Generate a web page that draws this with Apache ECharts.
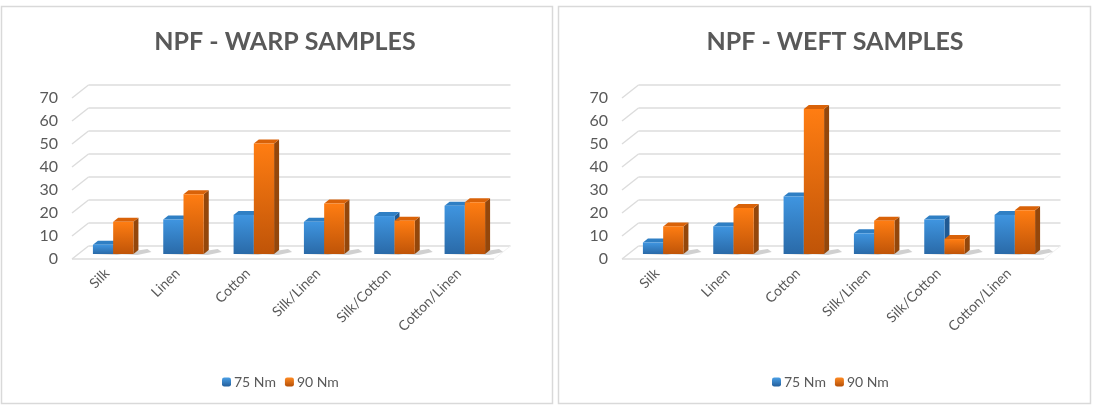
<!DOCTYPE html>
<html><head><meta charset="utf-8">
<style>html,body{margin:0;padding:0;background:#fff}#c{width:1093px;height:405px}</style>
<script src="https://cdn.jsdelivr.net/npm/echarts@6/dist/echarts.min.js"></script></head>
<body><div id="c"></div>
<script>
const categories = ['Silk','Linen','Cotton','Silk/Linen','Silk/Cotton','Cotton/Linen'];
const seriesNames = ['75 Nm','90 Nm'];
const warp75 = [4,15,17,14,16.5,21];
const warp90 = [14,26,48,22,14.5,22.5];
const weft75 = [5,12,25,9,15,17];
const weft90 = [12,20,63,14.5,6.5,19];
const gridTicks = [0,10,20,30,40,50,60,70];
const FONT = 'Lato';

const chart = echarts.init(document.getElementById('c'));
const vert = (a,b)=>({type:'linear',x:0,y:0,x2:0,y2:1,colorStops:[{offset:0,color:a},{offset:1,color:b}]});
const palette = [
  {front:vert('#3f95e0','#2a6aa8'),side:'#1f5a94',top:'#2f7fc4',legend:vert('#4a9fe6','#245f9c')},
  {front:vert('#ff7d12','#bf5408'),side:'#94470b',top:'#d96208',legend:vert('#ff8a22','#b45008')}
];
// depth of the floor, and of a bar standing in the middle of it
const DX=16.5, DY=13, BX=6, BY=5, SX=5, SY=4;

function wall(params,api){
  const v=api.value(0), p=api.coord([0,v]), s=api.size([1,0]);
  const x0=params.coordSys.x, x1=x0+params.coordSys.width, y=p[1];
  const style={stroke:'#dcdcdc',lineWidth:1.4,fill:null};
  const kids=[
    {type:'line',shape:{x1:x0,y1:y,x2:x0+DX,y2:y-DY},style},
    {type:'line',shape:{x1:x0+DX,y1:y-DY,x2:x1+DX,y2:y-DY},style}
  ];
  if(v===0) kids.push({type:'line',shape:{x1:x0,y1:y,x2:x1,y2:y},style},
                      {type:'line',shape:{x1:x1,y1:y,x2:x1+DX,y2:y-DY},style:{stroke:'#f2f2f2',lineWidth:1}});
  return {type:'group',silent:true,children:kids};
}

function bar3d(idx){
  return function(params,api){
    const c=api.coord([api.value(0),api.value(1)]), z=api.coord([api.value(0),0]);
    const band=api.size([1,0])[0], w=band*0.288;
    const x=c[0]+BX+(idx===0?-w:0), top=c[1]-BY, bot=z[1]-BY, col=palette[idx];
    const kids=[
      {type:'polygon',shape:{points:[[x+2,bot],[x+w+SX+9,bot-5],[x+w+SX+13,bot-2],[x+w+4,bot+1]]},
       style:{fill:'rgba(120,120,120,0.35)'}},
      {type:'polygon',shape:{points:[[x+w,top],[x+w+SX,top-SY],[x+w+SX,bot-SY],[x+w,bot]]},style:{fill:col.side}},
      {type:'polygon',shape:{points:[[x,top],[x+SX,top-SY],[x+w+SX,top-SY],[x+w,top]]},style:{fill:col.top}},
      {type:'rect',shape:{x,y:top,width:w,height:bot-top},style:{fill:col.front}}
    ];
    return {type:'group',children:kids};
  };
}

const panels=[
  {left:72, title:'NPF - WARP SAMPLES', titleX:280, legendX:283, a:warp75, b:warp90},
  {left:622, title:'NPF - WEFT SAMPLES', titleX:830, legendX:833, a:weft75, b:weft90}
];
const W=422, H=161;
const option={
  animation:false, backgroundColor:'#fff',
  textStyle:{fontFamily:FONT},
  graphic:[
    {type:'rect',silent:true,shape:{x:1.5,y:6.5,width:551,height:397},style:{fill:'#fff',stroke:'#d9d9d9',lineWidth:1.5}},
    {type:'rect',silent:true,shape:{x:558.5,y:6.5,width:532,height:397},style:{fill:'#fff',stroke:'#d9d9d9',lineWidth:1.5}}
  ],
  title:panels.map(p=>({text:p.title,left:p.titleX,top:24,textAlign:'center',
    textStyle:{fontFamily:FONT,fontSize:25,fontWeight:'bold',color:'#595959'}})),
  legend:panels.map((p,i)=>({
    left:p.legendX-66, top:370, itemWidth:9, itemHeight:9, itemGap:9,
    data:[{name:seriesNames[0]},{name:seriesNames[1]}],
    selectedMode:false,
    textStyle:{fontFamily:FONT,fontSize:14,color:'#595959',padding:[0,0,0,-2]}
  })),
  grid:panels.map(p=>({left:p.left,top:98,width:W,height:H,containLabel:false})),
  xAxis:panels.map((p,i)=>({gridIndex:i,type:'category',data:categories,
    axisLine:{show:false},axisTick:{show:false},splitLine:{show:false},
    axisLabel:{rotate:45,interval:0,margin:12,fontFamily:FONT,fontSize:14,color:'#595959'}})),
  yAxis:panels.map((p,i)=>({gridIndex:i,type:'value',min:0,max:70,interval:10,
    axisLine:{show:false},axisTick:{show:false},splitLine:{show:false},
    axisLabel:{margin:14,fontFamily:FONT,fontSize:16,color:'#595959'}})),
  series:[]
};
panels.forEach((p,i)=>{
  option.series.push({type:'custom',xAxisIndex:i,yAxisIndex:i,silent:true,z:1,
    data:gridTicks.map(v=>[v]),renderItem:wall,encode:{y:0},clip:false});
  [p.a,p.b].forEach((vals,j)=>{
    option.series.push({type:'custom',name:seriesNames[j],xAxisIndex:i,yAxisIndex:i,z:2+j,
      data:vals.map((v,k)=>[k,v]),encode:{x:0,y:1},renderItem:bar3d(j),clip:false,
      itemStyle:{color:palette[j].legend}});
  });
});
chart.setOption(option);
</script></body></html>
